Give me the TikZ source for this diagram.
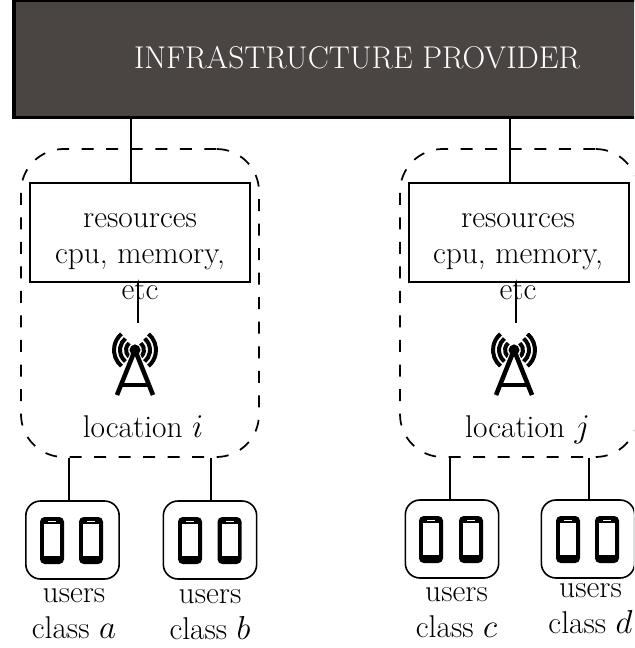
\documentclass[tikz,border=0pt]{standalone}
\usetikzlibrary{calc}
\definecolor{provfill}{HTML}{4A4543}
\tikzset{
  link/.style={draw=black,line width=1.2pt},
  txt/.style={inner sep=0pt,align=center,font=\fontsize{23.6}{27}\selectfont},
  provider/.style={draw=black,fill=provfill,line width=2.4pt,minimum width=630pt,minimum height=88pt,inner sep=0pt},
  resbox/.style={draw=black,line width=1.2pt,minimum width=165pt,minimum height=74.5pt,inner sep=0pt},
  locbox/.style={draw=black,dashed,dash pattern=on 9pt off 9.4pt,line width=1.3pt,rounded corners=32pt,minimum width=178.5pt,minimum height=231pt,inner sep=0pt},
  userbox/.style={draw=black,line width=1.2pt,rounded corners=11pt,minimum width=70pt,minimum height=58.5pt,inner sep=0pt},
  towerpic/.pic={
    \foreach \r in {9,15,21}{
      \draw[line width=3pt] ({\r*cos(130)},{\r*sin(130)}) arc[start angle=130,end angle=230,radius=\r];
      \draw[line width=3pt] ({\r*cos(-50)},{\r*sin(-50)}) arc[start angle=-50,end angle=50,radius=\r];
    }
    \draw[white,line width=5pt] (-18,45) -- (0,0) -- (18,45);
    \draw[line width=3.4pt] (-18,45) -- (0,0) -- (18,45);
    \draw[line width=2.4pt] (-14,35) -- (14,35);
    \fill (0,0) circle (5.5);
  },
  phonepic/.pic={
    \fill[black,rounded corners=3.5pt] (-12,-23.5) rectangle (12,23.5);
    \fill[white] (-8,-17) rectangle (8,15.5);
    \fill[white] (-4,-20) rectangle (4,-19);
  }
}
\begin{document}
\begin{tikzpicture}[x=0.75pt,y=-0.75pt]
\useasboundingbox (0,0) rectangle (634,648);
\begin{scope}
\clip (0,0) rectangle (634,648);
\node[provider] (prov) at (434,59) {};
\node[txt,text=white] (provtext) at (357,58) {INFRASTRUCTURE PROVIDER};
\node[locbox] (locI) at (140,303) {};
\node[locbox] (locJ) at (519,303) {};
\node[resbox] (resI) at (140,232.5) {};
\node[resbox] (resJ) at (519,232.5) {};
\node[txt] (resItext) at (140,256.5) {resources\\cpu, memory,\\etc};
\node[txt] (resJtext) at (518,256.5) {resources\\cpu, memory,\\etc};

\coordinate (towerI) at (135,350);
\coordinate (towerJ) at (514,350);
\pic at (towerI) {towerpic};
\pic at (towerJ) {towerpic};

\node[txt,anchor=base] (locItext) at (143,437) {location $i$};
\node[txt,anchor=base] (locJtext) at (527.5,437) {location $j$};

\node[userbox] (ua) at (72.5,540) {};
\node[userbox] (ub) at (210,540) {};
\node[userbox] (uc) at (452,539) {};
\node[userbox] (ud) at (588,539) {};

\foreach \x/\y in {52/540.5,91/540.5,190/540.5,229.5/540.5,431/539.5,471/539.5,568/539.5,607/539.5}
  \pic at (\x,\y) {phonepic};

\node[txt] (ta) at (74,613.5) {users\\class $a$};
\node[txt] (tb) at (210,614.5) {users\\class $b$};
\node[txt] (tc) at (456.5,612.5) {users\\class $c$};
\node[txt] (td) at (590.5,609) {users\\class $d$};

\draw[link] (prov.south -| 131,0) -- (resI.north -| 131,0);
\draw[link] (prov.south -| 510,0) -- (resJ.north -| 510,0);
\draw[link] (resI.south -| 138,0) -- (138,323);
\draw[link] (resJ.south -| 516,0) -- (516,323);
\draw[link] (locI.south -| 69,0) -- (ua.north -| 69,0);
\draw[link] (locI.south -| 211,0) -- (ub.north -| 211,0);
\draw[link] (locJ.south -| 450,0) -- (uc.north -| 450,0);
\draw[link] (locJ.south -| 589,0) -- (ud.north -| 589,0);
\end{scope}
\end{tikzpicture}
\end{document}
